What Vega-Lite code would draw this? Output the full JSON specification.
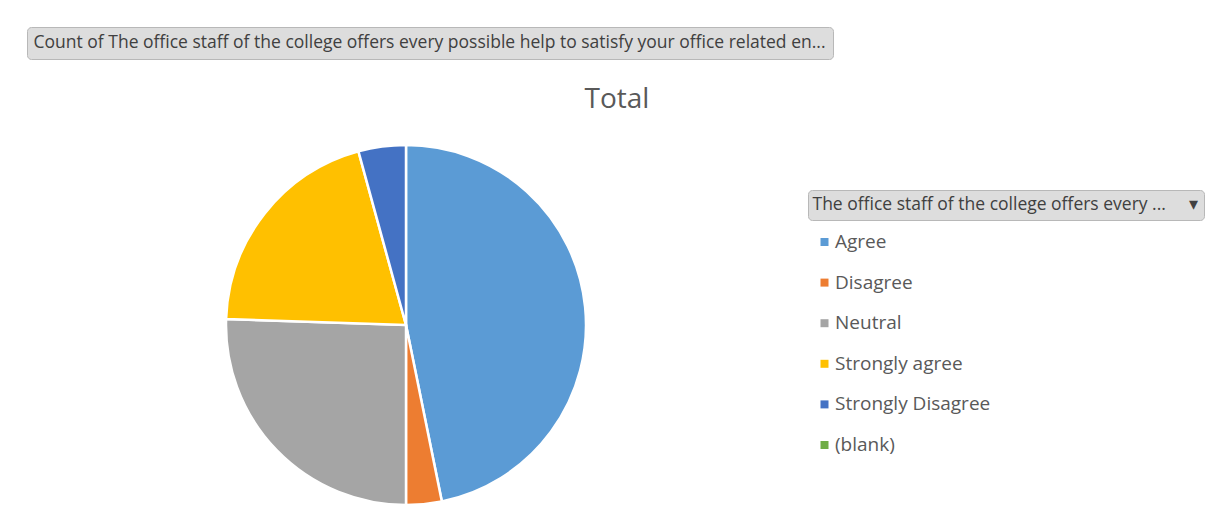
{
  "$schema": "https://vega.github.io/schema/vega-lite/v6.json",
  "autosize": {"type": "none"},
  "width": 360,
  "height": 360,
  "padding": {"left": 226, "top": 145, "right": 639, "bottom": 15},
  "background": "white",
  "config": {"view": {"stroke": null}, "font": "Open Sans"},
  "title": {"text": "Total", "fontSize": 28, "font": "Open Sans", "fontWeight": "normal", "color": "#595959", "anchor": "middle", "frame": "group", "dx": 211, "offset": -87},
  "data": {"values": [
    {"response": "Agree", "rank": 1, "count": 44},
    {"response": "Disagree", "rank": 2, "count": 3},
    {"response": "Neutral", "rank": 3, "count": 24},
    {"response": "Strongly agree", "rank": 4, "count": 19},
    {"response": "Strongly Disagree", "rank": 5, "count": 4}
  ]},
  "mark": {"type": "arc", "stroke": "white"},
  "encoding": {
    "theta": {"field": "count", "type": "quantitative", "stack": true},
    "order": {"field": "rank", "type": "quantitative", "sort": "ascending"},
    "color": {
      "field": "response", "type": "nominal",
      "sort": ["Agree", "Disagree", "Neutral", "Strongly agree", "Strongly Disagree", "(blank)"],
      "scale": {
        "domain": ["Agree", "Disagree", "Neutral", "Strongly agree", "Strongly Disagree", "(blank)"],
        "range": ["#5B9BD5", "#ED7D31", "#A5A5A5", "#FFC000", "#4472C4", "#70AD47"]
      },
      "legend": {
        "orient": "none", "legendX": 589, "legendY": 87.5, "title": null,
        "symbolType": "square", "symbolSize": 64, "symbolStrokeWidth": 0,
        "labelFont": "Open Sans", "labelFontSize": 19, "labelColor": "#595959",
        "rowPadding": 20.6, "labelOffset": 1, "padding": 0
      }
    },
    "strokeWidth": {
      "datum": "The office staff of the college offers every ...\u00A0\u00A0\u00A0\u00A0\u00A0\u25BE\u00A0\u00A0\u00A0", "type": "nominal",
      "scale": {"range": [2.5, 2.5]},
      "legend": {
        "orient": "none", "legendX": 582, "legendY": 45, "title": null,
        "symbolOpacity": 0, "symbolSize": 0, "symbolStrokeWidth": 0, "labelOffset": -19,
        "labelFont": "Open Sans", "labelFontSize": 17.5, "labelColor": "#404040", "labelLimit": 1000,
        "fillColor": "#dddddd", "strokeColor": "#b8b8b8", "cornerRadius": 4, "padding": 6
      }
    },
    "opacity": {
      "datum": "Count of The office staff of the college offers every possible help to satisfy your office related en...", "type": "nominal",
      "scale": {"range": [1, 1]},
      "legend": {
        "orient": "none", "legendX": -199, "legendY": -118, "title": null,
        "symbolOpacity": 0, "symbolSize": 0, "symbolStrokeWidth": 0, "labelOffset": -18,
        "labelFont": "Open Sans", "labelFontSize": 17.5, "labelColor": "#404040", "labelLimit": 1000,
        "fillColor": "#dddddd", "strokeColor": "#b8b8b8", "cornerRadius": 4, "padding": 7
      }
    }
  }
}
